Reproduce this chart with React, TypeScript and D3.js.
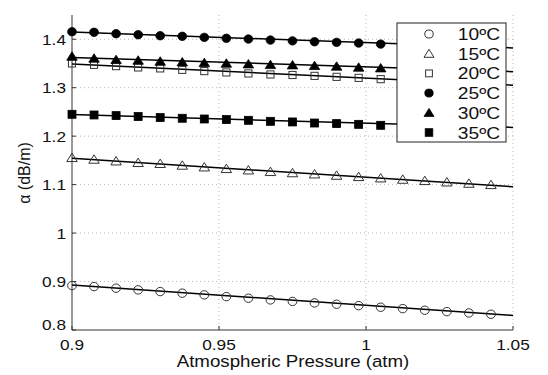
import React from "react";
import * as d3 from "d3";

const pressure: number[] = [
  0.9, 0.9075, 0.915, 0.9225, 0.93, 0.9375, 0.945, 0.9525, 0.96, 0.9675,
  0.975, 0.9825, 0.99, 0.9975, 1.005, 1.0125, 1.02, 1.0275, 1.035, 1.0425,
];

const seriesNames: string[] = ["10ºC", "15ºC", "20ºC", "25ºC", "30ºC", "35ºC"];
const markerKinds: string[] = ["circle", "triangle", "square", "circle", "triangle", "square"];
const markerFilled: boolean[] = [false, false, false, true, true, true];

const alpha10: number[] = [
  0.8917, 0.8896, 0.8863, 0.8828, 0.8793, 0.876, 0.8725, 0.8689, 0.8656, 0.8621,
  0.859, 0.8559, 0.8532, 0.8503, 0.847, 0.8441, 0.8408, 0.8379, 0.8352, 0.8325,
];
const alpha15: number[] = [
  1.1554, 1.1519, 1.1484, 1.1451, 1.1431, 1.1396, 1.136, 1.1327, 1.1298, 1.1265,
  1.124, 1.1215, 1.1188, 1.1161, 1.1133, 1.1106, 1.1079, 1.105, 1.1023, 1.0996,
];
const alpha20: number[] = [
  1.3501, 1.3472, 1.3445, 1.3418, 1.3398, 1.3369, 1.3342, 1.3315, 1.3294, 1.3273,
  1.3262, 1.3244, 1.3224, 1.3203, 1.3176,
];
const alpha25: number[] = [
  1.4155, 1.4143, 1.4114, 1.4093, 1.4072, 1.406, 1.4039, 1.4019, 1.4004, 1.3983,
  1.3966, 1.3948, 1.3936, 1.3921, 1.39,
];
const alpha30: number[] = [
  1.3646, 1.3605, 1.3576, 1.3563, 1.3543, 1.3528, 1.3514, 1.3501, 1.3486, 1.3472,
  1.3466, 1.3452, 1.3439, 1.3418, 1.3404,
];
const alpha35: number[] = [
  1.2451, 1.2437, 1.2424, 1.2404, 1.2383, 1.2369, 1.2354, 1.2342, 1.2327, 1.2306,
  1.2293, 1.2271, 1.2259, 1.2244, 1.2224,
];
const seriesValues: number[][] = [alpha10, alpha15, alpha20, alpha25, alpha30, alpha35];

// linear fit lines: value at 0.9 atm and at 1.05 atm
const fitPressure: number[] = [0.9, 1.05];
const fit10: number[] = [0.893, 0.83];
const fit15: number[] = [1.1545, 1.0955];
const fit20: number[] = [1.349, 1.305];
const fit25: number[] = [1.415, 1.382];
const fit30: number[] = [1.3625, 1.333];
const fit35: number[] = [1.2445, 1.218];
const fitValues: number[][] = [fit10, fit15, fit20, fit25, fit30, fit35];

const xTicks: number[] = [0.9, 0.95, 1, 1.05];
const xTickLabels: string[] = ["0.9", "0.95", "1", "1.05"];
const yTicks: number[] = [0.8, 0.9, 1, 1.1, 1.2, 1.3, 1.4];
const yTickLabels: string[] = ["0.8", "0.9", "1", "1.1", "1.2", "1.3", "1.4"];

const W = 548;
const H = 375;
const FONT = "'Liberation Sans', Arial, Helvetica, sans-serif";

function SText({
  x,
  y,
  sx,
  size,
  anchor,
  children,
}: {
  x: number;
  y: number;
  sx: number;
  size: number;
  anchor: "start" | "middle" | "end";
  children: React.ReactNode;
}) {
  return (
    <text transform={`translate(${x},${y}) scale(${sx},1)`} textAnchor={anchor} fontSize={size} fill="#111">
      {children}
    </text>
  );
}

function Marker({ kind, filled, cx, cy, size }: { kind: string; filled: boolean; cx: number; cy: number; size: number }) {
  const fill = filled ? "#000" : "none";
  const stroke = filled ? "#000" : "#333";
  const sw = filled ? 0.8 : 1;
  if (kind === "circle") {
    return <ellipse cx={cx} cy={cy} rx={size * 1.05} ry={size} fill={fill} stroke={stroke} strokeWidth={sw} />;
  }
  if (kind === "triangle") {
    const h = size * 2;
    const w = size * 1.25;
    const p = `${cx},${cy - h * 0.55} ${cx + w},${cy + h * 0.45} ${cx - w},${cy + h * 0.45}`;
    return <polygon points={p} fill={fill} stroke={stroke} strokeWidth={sw} />;
  }
  const s = filled ? size * 0.95 : size * 0.85;
  return <rect x={cx - s} y={cy - s} width={s * 2} height={s * 2} fill={fill} stroke={stroke} strokeWidth={sw} />;
}

export default function App() {
  const x = d3.scaleLinear().domain([0.9, 1.05]).range([72, 513]);
  const y = d3.scaleLinear().domain([0.8, 1.45]).range([330, 15]);
  const line = d3
    .line<[number, number]>()
    .x((d) => x(d[0]))
    .y((d) => y(d[1]));

  const legend = { x0: 397, y0: 23, x1: 506, y1: 142 };
  const legendRowY = d3.scaleLinear().domain([0, 5]).range([34, 132.5]);

  return (
    <svg
      width={W}
      height={H}
      style={{ position: "absolute", left: 0, top: 0, background: "#fff" }}
      fontFamily={FONT}
    >
      <rect x={0} y={0} width={W} height={H} fill="#fff" />
      {/* grid */}
      <g stroke="#b8b8b8" strokeWidth={1} strokeDasharray="1,3">
        {xTicks.slice(1).map((t) => (
          <line key={"gx" + t} x1={x(t)} x2={x(t)} y1={y(1.45)} y2={y(0.8)} />
        ))}
        {yTicks.slice(1).map((t) => (
          <line key={"gy" + t} x1={x(0.9)} x2={x(1.05)} y1={y(t)} y2={y(t)} />
        ))}
      </g>
      {/* axes */}
      <g stroke="#333" strokeWidth={1}>
        <line x1={x(0.9)} x2={x(0.9)} y1={y(1.45)} y2={y(0.8)} />
        <line x1={x(0.9)} x2={x(1.05)} y1={y(0.8)} y2={y(0.8)} />
        {xTicks.map((t) => (
          <line key={"tx" + t} x1={x(t)} x2={x(t)} y1={y(0.8)} y2={y(0.8) - 4} />
        ))}
        {yTicks.map((t) => (
          <line key={"ty" + t} x1={x(0.9)} x2={x(0.9) + 4} y1={y(t)} y2={y(t)} />
        ))}
      </g>
      {/* fit lines */}
      {fitValues.map((fv, i) => (
        <path
          key={"fit" + i}
          d={line(fitPressure.map((p, j) => [p, fv[j]] as [number, number])) || ""}
          fill="none"
          stroke="#000"
          strokeWidth={1.5}
        />
      ))}
      {/* markers */}
      {seriesValues.map((vals, i) => (
        <g key={"s" + i}>
          {vals.map((v, j) => (
            <Marker key={j} kind={markerKinds[i]} filled={markerFilled[i]} cx={x(pressure[j])} cy={y(v)} size={4.2} />
          ))}
        </g>
      ))}
      {/* tick labels */}
      {xTicks.map((t, i) => (
        <SText key={"lx" + t} x={x(t)} y={350} sx={1.15} size={15} anchor="middle">
          {xTickLabels[i]}
        </SText>
      ))}
      {yTicks.map((t, i) => (
        <SText key={"ly" + t} x={x(0.9) - 6} y={t === 0.8 ? y(t) - 0.5 : y(t) + 5.5} sx={1.15} size={15} anchor="end">
          {yTickLabels[i]}
        </SText>
      ))}
      <SText x={293} y={367} sx={1.1} size={17} anchor="middle">
        Atmospheric Pressure (atm)
      </SText>
      <text transform="translate(30,173) rotate(-90)" textAnchor="middle" fontSize={16} fill="#111">
        α (dB/m)
      </text>
      {/* legend */}
      <rect
        x={legend.x0}
        y={legend.y0}
        width={legend.x1 - legend.x0}
        height={legend.y1 - legend.y0}
        fill="#fff"
        stroke="#222"
        strokeWidth={1}
      />
      {seriesNames.map((name, i) => (
        <g key={"lg" + i}>
          <Marker kind={markerKinds[i]} filled={markerFilled[i]} cx={429} cy={legendRowY(i)} size={4} />
          <SText x={500} y={legendRowY(i) + 6} sx={1.2} size={16} anchor="end">
            {name}
          </SText>
        </g>
      ))}
    </svg>
  );
}
